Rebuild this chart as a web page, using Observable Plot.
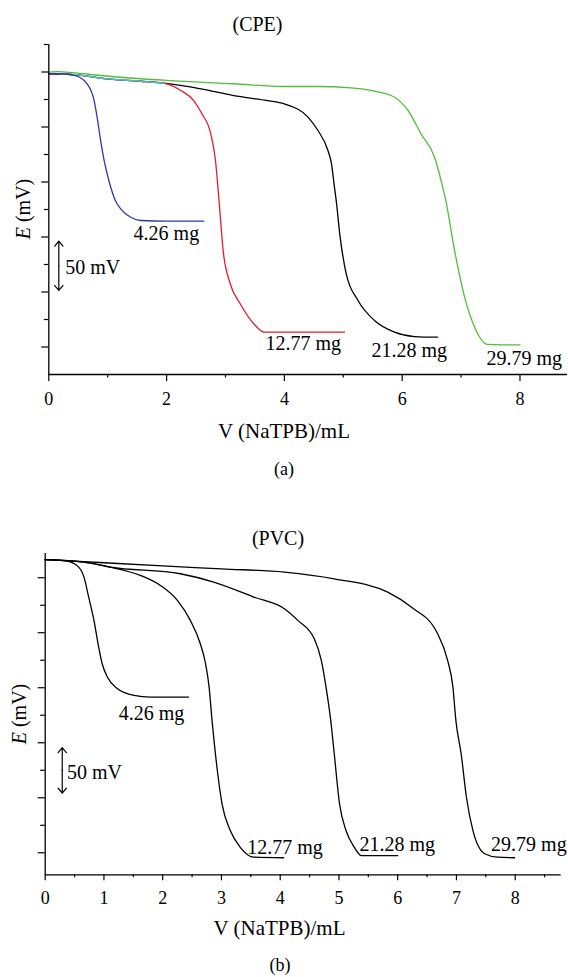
<!DOCTYPE html>
<html>
<head>
<meta charset="utf-8">
<script src="https://cdn.jsdelivr.net/npm/d3@7"></script>
<script src="https://cdn.jsdelivr.net/npm/@observablehq/plot@0.6"></script>
<style>
  html, body { margin: 0; padding: 0; background: #fff; }
  #wrap { position: relative; width: 568px; height: 977px; overflow: hidden;
          font-family: 'Liberation Serif', 'Times New Roman', serif; color: #000; }
  .t { position: absolute; white-space: nowrap; line-height: 1; transform: translate(-50%, -50%); }
  .panel { position: absolute; left: 0; }
</style>
</head>
<body>
<div id="wrap">
  <div id="panelA" class="panel" style="top:0px"></div>
  <div id="panelB" class="panel" style="top:480px"></div>
</div>
<script>
// ---------------- DATA ----------------
// Panel (a) CPE : V (NaTPB) in mL, E in mV (relative)
const cpe426X = [0, 0.2, 0.45, 0.65, 0.77, 0.82, 0.88, 0.94, 1.02, 1.13, 1.22, 1.39, 1.56, 2.0, 2.63];
const cpe426E = [273.4, 273.4, 271.8, 264.3, 249, 234, 212.7, 194.5, 176.4, 158.2, 150.6, 143, 140, 139.4, 139.4];

const cpe1277X = [0, 0.42, 0.99, 1.56, 1.95, 2.24, 2.46, 2.6, 2.75, 2.83, 2.89, 2.96, 3.08, 3.25, 3.48, 3.66, 4.2, 5.02];
const cpe1277E = [273.4, 272.7, 268.8, 266.6, 264.8, 258.2, 249, 237, 218.8, 194.5, 158.2, 112.7, 82.5, 64.3, 46.1, 38.5, 38.5, 38.5];

const cpe2128X = [0, 0.42, 0.99, 1.56, 1.95, 2.58, 3.14, 3.71, 4.0, 4.4, 4.57, 4.74, 4.8, 4.85, 4.88, 4.94, 5.05, 5.25, 5.53, 5.87, 6.21, 6.6];
const cpe2128E = [273.4, 272.7, 268.8, 266.6, 264.8, 259.7, 253.6, 249, 246, 234, 221.8, 203.6, 191.5, 170.3, 158.2, 127.9, 91.5, 67.3, 49.1, 38.5, 34.5, 33.9];

const cpe2979X = [0, 0.15, 0.4, 0.88, 2.01, 3.14, 4.0, 4.57, 5.13, 5.47, 5.87, 6.1, 6.32, 6.55, 6.66, 6.74, 6.89, 7.06, 7.23, 7.45, 7.7, 8.0];
const cpe2979E = [274.8, 275.3, 274.5, 271.8, 267.3, 264.3, 261.8, 261.8, 260.6, 258.2, 252.1, 240, 218.8, 197.5, 176.4, 158.2, 112.7, 70.3, 43, 27.3, 27, 27];

// overlapping start of the lower curves (drawn cyan in the original)
const cpeOverlapX = [0.2, 0.42, 0.99, 1.56, 1.95];
const cpeOverlapE = [273.2, 272.7, 268.8, 266.6, 264.8];

// Panel (b) PVC
const pvc426X = [0, 0.37, 0.57, 0.66, 0.74, 0.83, 0.91, 0.97, 1.06, 1.23, 1.51, 1.79, 2.44];
const pvc426E = [266.4, 265.1, 259.6, 250.5, 232.4, 211.2, 186.9, 171.8, 159.6, 149.1, 143, 141.5, 141.5];

const pvc1277X = [0, 0.66, 1.11, 1.62, 1.96, 2.25, 2.47, 2.64, 2.73, 2.79, 2.84, 2.93, 3.01, 3.15, 3.32, 3.55, 4.06];
const pvc1277E = [266.4, 264.2, 259.6, 252.1, 243, 229.4, 211.2, 190, 171.8, 150.5, 120.3, 74.8, 44.5, 20.3, 5, -4, -4.5];

const pvc2128X = [0, 0.66, 1.11, 2.30, 2.87, 3.55, 4.07, 4.30, 4.58, 4.70, 4.78, 4.86, 4.92, 5.01, 5.12, 5.26, 5.38, 6.0];
const pvc2128E = [266.4, 264.2, 259.6, 253.6, 246, 232.4, 221.8, 211.2, 194.5, 174.8, 150.5, 120.3, 90, 44.5, 20.3, 5.1, -2.5, -2.5];

const pvc2979X = [0, 1, 2, 3, 4.07, 4.92, 5.83, 6.23, 6.68, 6.85, 6.94, 6.99, 7.08, 7.17, 7.28, 7.48, 7.70, 7.99];
const pvc2979E = [266.4, 263.6, 260.8, 258, 255.1, 249, 236.9, 223.3, 199.1, 174.8, 150.5, 120.3, 90, 50.5, 20.3, -0.9, -4, -4.5];

const massLabels = ["4.26 mg", "12.77 mg", "21.28 mg", "29.79 mg"];
// label anchors (left edge x in mL, vertical centre in mV)
const cpeLabelX = [1.44, 3.68, 5.48, 7.43];
const cpeLabelE = [128.2, 28.2, 21.8, 14.5];
const pvcLabelX = [1.25, 3.44, 5.35, 7.59];
const pvcLabelE = [126.9, 4.8, 7.5, 7.5];

// 50 mV scale bars: x, E top, E bottom; text anchor
const cpeBar = {x: 0.17, top: 121.2, bottom: 76.4, tx: 0.28, tE: 97.5};
const pvcBar = {x: 0.29, top: 95.5, bottom: 54.2, tx: 0.37, tE: 73.3};

const cpeXTicks = [0, 2, 4, 6, 8];
const cpeXMinor = [1, 3, 5, 7];
const cpeYMajor = [25, 75, 125, 175, 225, 275];
const cpeYMinor = [50, 100, 150, 200, 250, 300];
const pvcXTicks = [0, 1, 2, 3, 4, 5, 6, 7, 8];
const pvcXMinor = [0.5, 1.5, 2.5, 3.5, 4.5, 5.5, 6.5, 7.5, 8.5];
const pvcYMajor = [0, 50, 100, 150, 200, 250];
const pvcYMinor = [25, 75, 125, 175, 225];

// ---------------- BUILD ----------------
const FONT = "'Liberation Serif', 'Times New Roman', serif";
const zip = (xs, es) => xs.map((x, i) => ({x, E: es[i]}));

function panel(o) {
  const marks = [];
  for (const s of o.series) {
    marks.push(Plot.line(zip(s.x, s.E), {x: "x", y: "E", stroke: s.color, strokeWidth: s.w || 1.3, curve: "monotone-x"}));
  }
  const labs = o.labelX.map((x, i) => ({x, E: o.labelE[i], t: massLabels[i]}));
  marks.push(Plot.text(labs, {x: "x", y: "E", text: "t", textAnchor: "start", fontSize: 20, fontFamily: FONT, fill: "#000"}));
  const b = o.bar;
  const mid = (b.top + b.bottom) / 2;
  marks.push(Plot.arrow([b], {x1: "x", x2: "x", y1: () => mid, y2: "top", headLength: 8, headAngle: 80, strokeWidth: 1.2, stroke: "#000"}));
  marks.push(Plot.arrow([b], {x1: "x", x2: "x", y1: () => mid, y2: "bottom", headLength: 8, headAngle: 80, strokeWidth: 1.2, stroke: "#000"}));
  marks.push(Plot.text([b], {x: "tx", y: "tE", text: () => "50 mV", textAnchor: "start", fontSize: 20, fontFamily: FONT, fill: "#000"}));
  marks.push(Plot.axisX({ticks: o.xTicks, tickSize: o.xMajorLen, tickPadding: o.xPad, fontSize: 18, fontFamily: FONT, label: null, tickFormat: d => String(d), strokeWidth: 1.2}));
  marks.push(Plot.axisX({ticks: o.xMinor, tickSize: o.xMinorLen, tickFormat: () => "", label: null, strokeWidth: 1.2}));
  marks.push(Plot.axisY({ticks: o.yMajor, tickSize: 7, tickFormat: () => "", label: null, strokeWidth: 1.2}));
  marks.push(Plot.axisY({ticks: o.yMinor, tickSize: 4.5, tickFormat: () => "", label: null, strokeWidth: 1.2}));
  marks.push(Plot.ruleX([0], {strokeWidth: 1.3}));
  marks.push(Plot.ruleY([o.yDomain[0]], {strokeWidth: 1.3}));
  return Plot.plot({
    width: 568, height: o.height,
    marginLeft: o.ml, marginRight: o.mr, marginTop: o.mt, marginBottom: o.mb,
    x: {domain: o.xDomain}, y: {domain: o.yDomain},
    style: {fontFamily: FONT, fontSize: "18px", color: "#000", background: "transparent", overflow: "visible"},
    marks
  });
}

const blue = "#2d3aa6", red = "#dd1f2a", green = "#4fbf3a", black = "#000";

const A = panel({
  height: 480, ml: 48.3, mr: 1, mt: 44, mb: 106,
  xDomain: [0, 8.807], yDomain: [0, 300],
  xTicks: cpeXTicks, xMinor: cpeXMinor, yMajor: cpeYMajor, yMinor: cpeYMinor,
  xMajorLen: 7, xMinorLen: 3.5, xPad: 11,
  labelX: cpeLabelX, labelE: cpeLabelE, bar: cpeBar,
  series: [
    {x: cpe2979X, E: cpe2979E, color: green},
    {x: cpe2128X, E: cpe2128E, color: black},
    {x: cpe1277X, E: cpe1277E, color: red},
    {x: cpeOverlapX, E: cpeOverlapE, color: "#52bccb", w: 1.6},
    {x: cpe426X, E: cpe426E, color: blue}
  ]
});
document.getElementById("panelA").appendChild(A);

const B = panel({
  height: 497, ml: 44.7, mr: 7.3, mt: 73, mb: 102.7,
  xDomain: [0, 8.783], yDomain: [-20, 272],
  xTicks: pvcXTicks, xMinor: pvcXMinor, yMajor: pvcYMajor, yMinor: pvcYMinor,
  xMajorLen: 6, xMinorLen: 3, xPad: 10,
  labelX: pvcLabelX, labelE: pvcLabelE, bar: pvcBar,
  series: [
    {x: pvc2979X, E: pvc2979E, color: black},
    {x: pvc2128X, E: pvc2128E, color: black},
    {x: pvc1277X, E: pvc1277E, color: black},
    {x: pvc426X, E: pvc426E, color: black}
  ]
});
document.getElementById("panelB").appendChild(B);

// ---------------- TEXT (titles, axis titles, captions) ----------------
const wrap = document.getElementById("wrap");
function addText(html, cx, cy, size, rotate) {
  const d = document.createElement("div");
  d.className = "t";
  d.innerHTML = html;
  d.style.left = cx + "px";
  d.style.top = cy + "px";
  d.style.fontSize = size + "px";
  if (rotate) d.style.transform = "translate(-50%, -50%) rotate(-90deg)";
  wrap.appendChild(d);
}
addText("(CPE)", 257.5, 24, 20);
addText("V (NaTPB)/mL", 284, 431, 21);
addText("(a)", 284, 469, 18);
addText("<i>E</i> (mV)", 23, 209, 20, true);

addText("(PVC)", 278, 538, 20);
addText("V (NaTPB)/mL", 279.5, 928, 21);
addText("(b)", 280, 965, 18);
addText("<i>E</i> (mV)", 19, 714, 20, true);
</script>
</body>
</html>
